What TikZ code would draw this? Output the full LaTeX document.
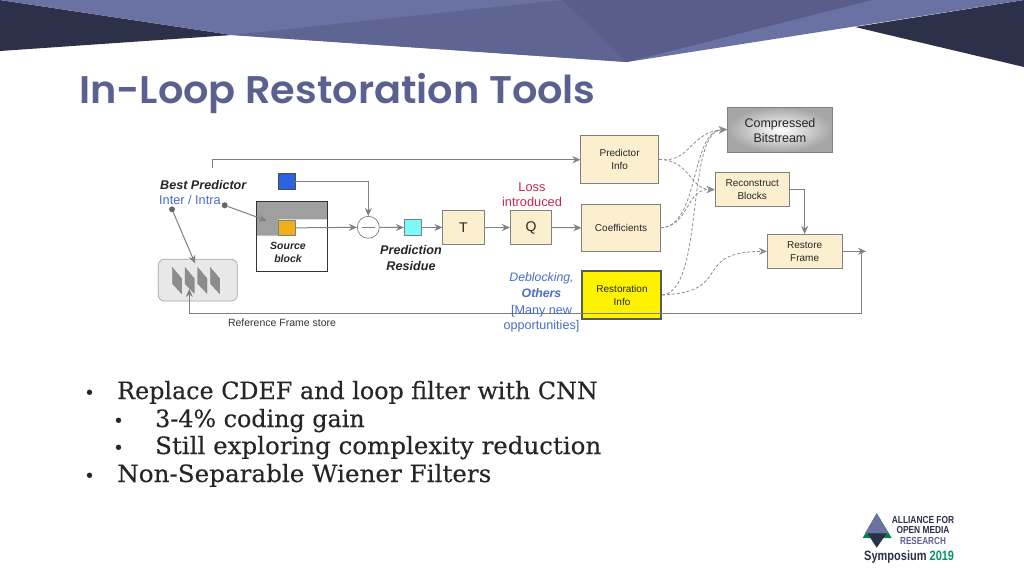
\documentclass[tikz,border=0pt]{standalone}
\usepackage{fontspec}
\setmainfont{Liberation Sans}
\newfontfamily\titlefont[FakeStretch=1.035]{Poppins SemiBold}
\newfontfamily\bodyfont[FakeBold=0.25]{DejaVu Serif}
\usetikzlibrary{arrows.meta,calc}
\definecolor{cream}{HTML}{FCEFD0}
\definecolor{edge}{HTML}{808080}
\definecolor{linkblue}{HTML}{4A6CC8}
\definecolor{navy}{HTML}{2C3049}
\definecolor{bandA}{HTML}{6A71A3}
\definecolor{bandB}{HTML}{5F6593}
\definecolor{bandC}{HTML}{585D89}
\definecolor{titlecol}{HTML}{5A6090}
\definecolor{bluesq}{HTML}{2A62E0}
\definecolor{orangesq}{HTML}{EFB016}
\definecolor{cyansq}{HTML}{7DF8F8}
\definecolor{lossred}{HTML}{C8284F}
\tikzset{
  block/.style={draw=edge,line width=.7pt,fill=cream,align=center,inner sep=0pt,font=\fontsize{10}{13}\selectfont,text=black!85},
  conn/.style={draw=edge,line width=1pt,-{Stealth[length=8pt,width=7pt]}},
  dashconn/.style={draw=edge!90,line width=.8pt,dash pattern=on 3pt off 2pt,-{Stealth[length=8pt,width=7pt]}},
  txt/.style={align=center,inner sep=0pt},
  bullet/.style={anchor=base west,inner sep=0pt,font=\bodyfont\fontsize{23.8}{27}\selectfont,text=black!85},
  dotmark/.style={circle,fill=black!60,inner sep=0pt,minimum size=6pt},
  bulletmark/.style={anchor=base west,inner sep=0pt,font=\bodyfont\fontsize{18}{20}\selectfont,text=black!85},
}
\newcommand{\boxat}[6]{\node[#1,minimum width=#4pt-#3pt,minimum height=#6pt-#5pt] (#2) at ({(#3+#4)/2},{(#5+#6)/2}) {};}
\begin{document}
\begin{tikzpicture}[x=1pt,y=-1pt]
\useasboundingbox (0,0) rectangle (1024,576);
\fill[white] (0,0) rectangle (1024,576);
% header band
\fill[navy] (0,0) -- (232,35) -- (0,51) -- cycle;
\fill[navy] (1024,0) -- (855,27) -- (1024,67) -- cycle;
\fill[bandA] (0,0) -- (1024,0) -- (627,62) -- (232,35) -- cycle;
\fill[bandB] (562,0) -- (627,62) -- (232,35) -- cycle;
\fill[bandC] (562,0) -- (872,0) -- (627,62) -- cycle;
% title
\node[anchor=base west,inner sep=0pt,font=\titlefont\fontsize{38.5}{40}\selectfont,text=titlecol] (title) at (79,103) {In-Loop Restoration Tools};
% boxes
\shade[inner color=white,outer color=gray!70] (727,107) rectangle (832.7,152);
\draw[edge,line width=.7pt] (727,107) rectangle (832.7,152);
\coordinate (cbw) at (727,129.5);
\node[txt,font=\fontsize{12.5}{15}\selectfont,text=black!85] (cb) at (780,130.5) {Compressed\\Bitstream};
\boxat{block}{pi}{580.5}{658.7}{135.7}{183}
\node[txt,font=\fontsize{10}{13}\selectfont,text=black!85] (pit) at (pi.center) {Predictor\\Info};
\boxat{block}{rb}{715}{789.5}{172.7}{206.7}
\node[txt,font=\fontsize{10}{13}\selectfont,text=black!85] (rbt) at (rb.center) {Reconstruct\\Blocks};
\boxat{block}{co}{581.7}{660.3}{204.3}{251.3}
\node[txt,font=\fontsize{10}{13}\selectfont,text=black!85] (cot) at (co.center) {Coefficients};
\boxat{block}{qq}{510.3}{551.7}{210.7}{244.3}
\node[txt,font=\fontsize{14}{16}\selectfont,text=black!85] (qt) at (qq.center) {Q};
\boxat{block}{tt}{442.7}{484}{210.7}{244.3}
\node[txt,font=\fontsize{14}{16}\selectfont,text=black!85] (ttt) at (tt.center) {T};
\boxat{block}{rf}{767.3}{842}{234.3}{268.3}
\node[txt,font=\fontsize{10}{13}\selectfont,text=black!85] (rft) at (rf.center) {Restore\\Frame};
\boxat{block,fill=yellow,draw=black!65,line width=1.8pt}{ri}{582.3}{661}{271.3}{318.7}
\node[txt,font=\fontsize{10}{13}\selectfont,text=black!85] (rit) at (622,295) {Restoration\\Info};
% source block
\boxat{block,fill=white,draw=black!80}{sb}{256.7}{327.3}{201.7}{271}
\fill[gray!75] (256.7,201.7) -- (327.3,201.7) -- (327.3,219.3) -- (278.3,219.3) -- (278.3,235.7) -- (256.7,235.7) -- cycle;
\draw[black!80,line width=.7pt] (256.7,201.7) rectangle (327.3,271);
\boxat{block,fill=bluesq,draw=black!70}{bs}{278.3}{295}{173.3}{189.7}
\boxat{block,fill=orangesq,draw=gray}{os}{278.3}{295}{220}{235.7}
\boxat{block,fill=cyansq,draw=edge}{cs}{404.3}{421.7}{219.3}{235.7}
\node[draw=edge,fill=white,circle,minimum size=22pt,inner sep=0pt,line width=.7pt] (sub) at (368.3,227.3) {};
\draw[edge,line width=.7pt] (362,227.3) -- (374.6,227.3);
\node[txt,font=\bfseries\itshape\fontsize{10.5}{13}\selectfont,text=black!85] (sbt) at (288,252.5) {Source\\block};
\node[txt,font=\bfseries\itshape\fontsize{12.6}{15.5}\selectfont,text=black!85] (prt) at (411,258) {Prediction\\Residue};
% frame store
\boxat{block,fill=gray!18,draw=gray!70,rounded corners=6pt}{fs}{158.3}{237.3}{259.3}{301}
\foreach \x in {172.3,185,197.7,210.3}{
  \fill[gray!90,draw=edge,line width=.3pt] (\x,267.5) -- ($(\x,267.5)+(9.3,11)$) -- ($(\x,267.5)+(9.3,26)$) -- ($(\x,267.5)+(0,16)$) -- cycle;
}
\node[anchor=center,inner sep=0pt,font=\fontsize{10.5}{13}\selectfont,text=black!80] (rfs) at (282,323) {Reference Frame store};
% labels
\node[anchor=west,inner sep=0pt,font=\bfseries\itshape\fontsize{12.6}{14}\selectfont,text=black!85] (bp) at (160,184.5) {Best Predictor};
\node[anchor=west,inner sep=0pt,font=\fontsize{12.7}{14}\selectfont,text=linkblue] (ii) at (159,200) {Inter / Intra};
\node[txt,font=\fontsize{12.8}{15}\selectfont,text=lossred] (loss) at (532,195) {Loss\\introduced};
\node[txt,font=\itshape\fontsize{12.3}{15}\selectfont,text=linkblue] (dbl) at (541.5,278.5) {Deblocking,};
\node[txt,font=\bfseries\itshape\fontsize{12.3}{15}\selectfont,text=linkblue] (oth) at (541.5,293.5) {Others};
% dots
\node[dotmark] (d1) at (172,209.3) {};
\node[dotmark] (d2) at (224.7,205.3) {};
\coordinate (d1e) at (195,263.3);
\coordinate (d2e) at (266.7,220.7);
\draw[conn] (d1) -- (d1e);
\draw[conn] (d2) -- (d2e);
% connectors
\coordinate (topstart) at (212,168);
\draw[conn] (topstart) -- (212,159.7) -- (580.5,159.7);
\draw[conn] (bs.east) -| (sub.north);
\draw[conn] (os.east) -- (sub.west);
\draw[conn] (sub.east) -- (cs.west);
\draw[conn] (cs.east) -- (tt.west);
\draw[conn] (tt.east) -- (qq.west);
\draw[conn] (qq.east) -- (co.west);
\draw[conn] (rb.east) -| (rf.north);
\coordinate (rfend) at (866,251.3);
\coordinate (fsin) at (189.3,289);
\draw[conn] (rf.east) -- (rfend);
\draw[conn] (861.7,251.3) |- (400,313.3) -- (189.3,313.3) -- (fsin);
% text crossed by the line
\node[txt,font=\fontsize{12.6}{15}\selectfont,text=linkblue] (mny) at (541.5,318.5) {[Many new\\opportunities]};
% dashed
\draw[dashconn] (pi.east) .. controls (690,164) and (690,132) .. (cbw);
\draw[dashconn] (pi.east) .. controls (690,160) and (690,189) .. (rb.west);
\draw[dashconn] (co.east) .. controls (700,226) and (690,131) .. (cbw);
\draw[dashconn] (co.east) .. controls (690,226) and (685,189) .. (rb.west);
\draw[dashconn] (ri.east) .. controls (705,292) and (685,131) .. (cbw);
\draw[dashconn] (ri.east) .. controls (735,292) and (690,252) .. (rf.west);
% bullets
\node[bulletmark] (b1) at (84,399) {•};
\node[bulletmark] (b2) at (113,427) {•};
\node[bulletmark] (b3) at (113,454) {•};
\node[bulletmark] (b4) at (84,482) {•};
\node[bullet] (t1) at (117,399) {Replace CDEF and loop filter with CNN};
\node[bullet] (t2) at (155,427) {3-4\% coding gain};
\node[bullet] (t3) at (155,454) {\scalebox{1.03}[1]{Still exploring complexity reduction}};
\node[bullet] (t4) at (117,482) {\scalebox{1.035}[1]{Non-Separable Wiener Filters}};
% logo
\fill[teal!70!green!80!black] (876.7,513.3) -- (862.7,538) -- (891.7,538) -- cycle;
\fill[bandA] (876.7,513.3) -- (865,533.3) -- (888.4,533.3) -- cycle;
\fill[navy] (867.3,533.3) -- (886.7,533.3) -- (876.7,547.7) -- cycle;
\node[txt,font=\bfseries\fontsize{10.2}{11}\selectfont,text=navy] (l1) at (923,519.5) {\scalebox{.82}[1]{ALLIANCE FOR}};
\node[txt,font=\bfseries\fontsize{10.2}{11}\selectfont,text=navy] (l2) at (923,529.5) {\scalebox{.82}[1]{OPEN MEDIA}};
\node[txt,font=\bfseries\fontsize{10.2}{11}\selectfont,text=titlecol] (l3) at (923,541) {\scalebox{.8}[1]{RESEARCH}};
\node[anchor=base west,inner sep=0pt,font=\bfseries\fontsize{13.5}{15}\selectfont,text=navy] (l4) at (864,560.5) {\scalebox{.815}[1]{Symposium \textcolor{teal!80!green}{2019}}};
\end{tikzpicture}
\end{document}
